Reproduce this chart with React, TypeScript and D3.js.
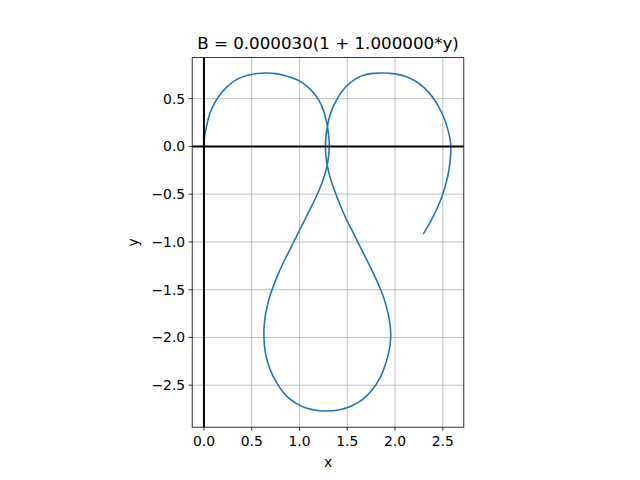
import React from "react";
import * as d3 from "d3";

const pathX: number[] = [
  0.0, 0.006, 0.025, 0.063, 0.12, 0.19, 0.27, 0.36, 0.46, 0.56, 0.656, 0.75, 0.85, 0.97, 1.06, 1.14, 1.205, 1.25, 1.28, 1.3, 1.312,
  1.305, 1.285, 1.25, 1.2, 1.14, 1.08, 1.02, 0.96, 0.9, 0.84, 0.78, 0.72, 0.675, 0.645, 0.63, 0.628, 0.64, 0.67, 0.72,
  0.79, 0.87, 0.966, 1.07, 1.19, 1.31, 1.43, 1.55, 1.665, 1.76, 1.84, 1.9, 1.94, 1.955, 1.95, 1.925, 1.88, 1.82, 1.76,
  1.69, 1.62, 1.55, 1.48, 1.42, 1.37, 1.325, 1.295, 1.277, 1.272, 1.277, 1.292, 1.32, 1.36, 1.42, 1.49, 1.575, 1.67,
  1.77, 1.87, 1.93, 2.0, 2.12, 2.22, 2.31, 2.39, 2.46, 2.52, 2.56, 2.58, 2.585, 2.575, 2.55, 2.5, 2.44, 2.37, 2.3,
];
const pathY: number[] = [
  0.0, 0.1, 0.2, 0.35, 0.47, 0.57, 0.65, 0.71, 0.745, 0.763, 0.768, 0.762, 0.74, 0.7, 0.645, 0.57, 0.48, 0.38, 0.27, 0.16, 0.03,
  -0.1, -0.22, -0.34, -0.47, -0.6, -0.72, -0.84, -0.96, -1.08, -1.2, -1.33, -1.48, -1.62, -1.76, -1.88, -2.0, -2.14, -2.27, -2.4,
  -2.52, -2.62, -2.69, -2.74, -2.765, -2.77, -2.755, -2.715, -2.645, -2.55, -2.43, -2.28, -2.13, -2.0, -1.88, -1.74, -1.58, -1.43, -1.3,
  -1.16, -1.02, -0.88, -0.74, -0.6, -0.47, -0.34, -0.22, -0.1, 0.0, 0.1, 0.21, 0.33, 0.43, 0.54, 0.63, 0.7, 0.745,
  0.765, 0.768, 0.766, 0.76, 0.73, 0.68, 0.61, 0.52, 0.41, 0.28, 0.15, 0.05, -0.02, -0.17, -0.32, -0.5, -0.65, -0.79, -0.91,
];
const xTicks: number[] = [0.0, 0.5, 1.0, 1.5, 2.0, 2.5];
const yTicks: number[] = [0.5, 0.0, -0.5, -1.0, -1.5, -2.0, -2.5];
const titleText = "B = 0.000030(1 + 1.000000*y)";
const xLabel = "x";
const yLabel = "y";

const fmt = (v: number) => {
  const s = v.toFixed(1);
  return v < 0 ? "\u2212" + s.slice(1) : s;
};

export default function App() {
  const left = 192.2, right = 463.8, top = 57.6, bottom = 427.2;
  const x = d3.scaleLinear().domain([-0.123, 2.72]).range([left, right]);
  const y = d3.scaleLinear().domain([-2.94, 0.93]).range([bottom, top]);
  const pts: [number, number][] = pathX.map((v, i) => [v, pathY[i]]);
  const line = d3
    .line<[number, number]>()
    .x((d) => x(d[0]))
    .y((d) => y(d[1]))
    .curve(d3.curveCatmullRom.alpha(0.5));
  const font = "DejaVu Sans, sans-serif";
  return (
    <svg width={640} height={480} style={{ position: "absolute", left: 0, top: 0, background: "#fff" }}>
      <rect x={0} y={0} width={640} height={480} fill="#fff" />
      <defs>
        <clipPath id="clip">
          <rect x={left} y={top} width={right - left} height={bottom - top} />
        </clipPath>
      </defs>
      {xTicks.map((t) => (
        <line key={"gx" + t} x1={x(t)} x2={x(t)} y1={top} y2={bottom} stroke="#b0b0b0" strokeWidth={0.8} />
      ))}
      {yTicks.map((t) => (
        <line key={"gy" + t} x1={left} x2={right} y1={y(t)} y2={y(t)} stroke="#b0b0b0" strokeWidth={0.8} />
      ))}
      <g clipPath="url(#clip)">
        <path d={line(pts) || ""} fill="none" stroke="#1f77b4" strokeWidth={1.6} strokeLinejoin="round" strokeLinecap="square" />
        <line x1={left} x2={right} y1={y(0)} y2={y(0)} stroke="#000" strokeWidth={2} />
        <line x1={x(0)} x2={x(0)} y1={top} y2={bottom} stroke="#000" strokeWidth={2} />
      </g>
      <rect x={left} y={top} width={right - left} height={bottom - top} fill="none" stroke="#000" strokeWidth={0.8} />
      {xTicks.map((t) => (
        <g key={"tx" + t}>
          <line x1={x(t)} x2={x(t)} y1={bottom} y2={bottom + 3.5} stroke="#000" strokeWidth={0.8} />
          <text x={x(t)} y={bottom + 18.5} textAnchor="middle" fontFamily={font} fontSize={13.9} fill="#000">
            {fmt(t)}
          </text>
        </g>
      ))}
      {yTicks.map((t) => (
        <g key={"ty" + t}>
          <line x1={left - 3.5} x2={left} y1={y(t)} y2={y(t)} stroke="#000" strokeWidth={0.8} />
          <text x={left - 7} y={y(t)} dy="0.35em" textAnchor="end" fontFamily={font} fontSize={13.9} fill="#000">
            {fmt(t)}
          </text>
        </g>
      ))}
      <text x={(left + right) / 2} y={467} textAnchor="middle" fontFamily={font} fontSize={13.9} fill="#000">
        {xLabel}
      </text>
      <text
        transform={`translate(${138},${(top + bottom) / 2}) rotate(-90)`}
        textAnchor="middle"
        fontFamily={font}
        fontSize={13.9}
        fill="#000"
      >
        {yLabel}
      </text>
      <text x={(left + right) / 2} y={49} textAnchor="middle" fontFamily={font} fontSize={16.7} fill="#000">
        {titleText}
      </text>
    </svg>
  );
}
